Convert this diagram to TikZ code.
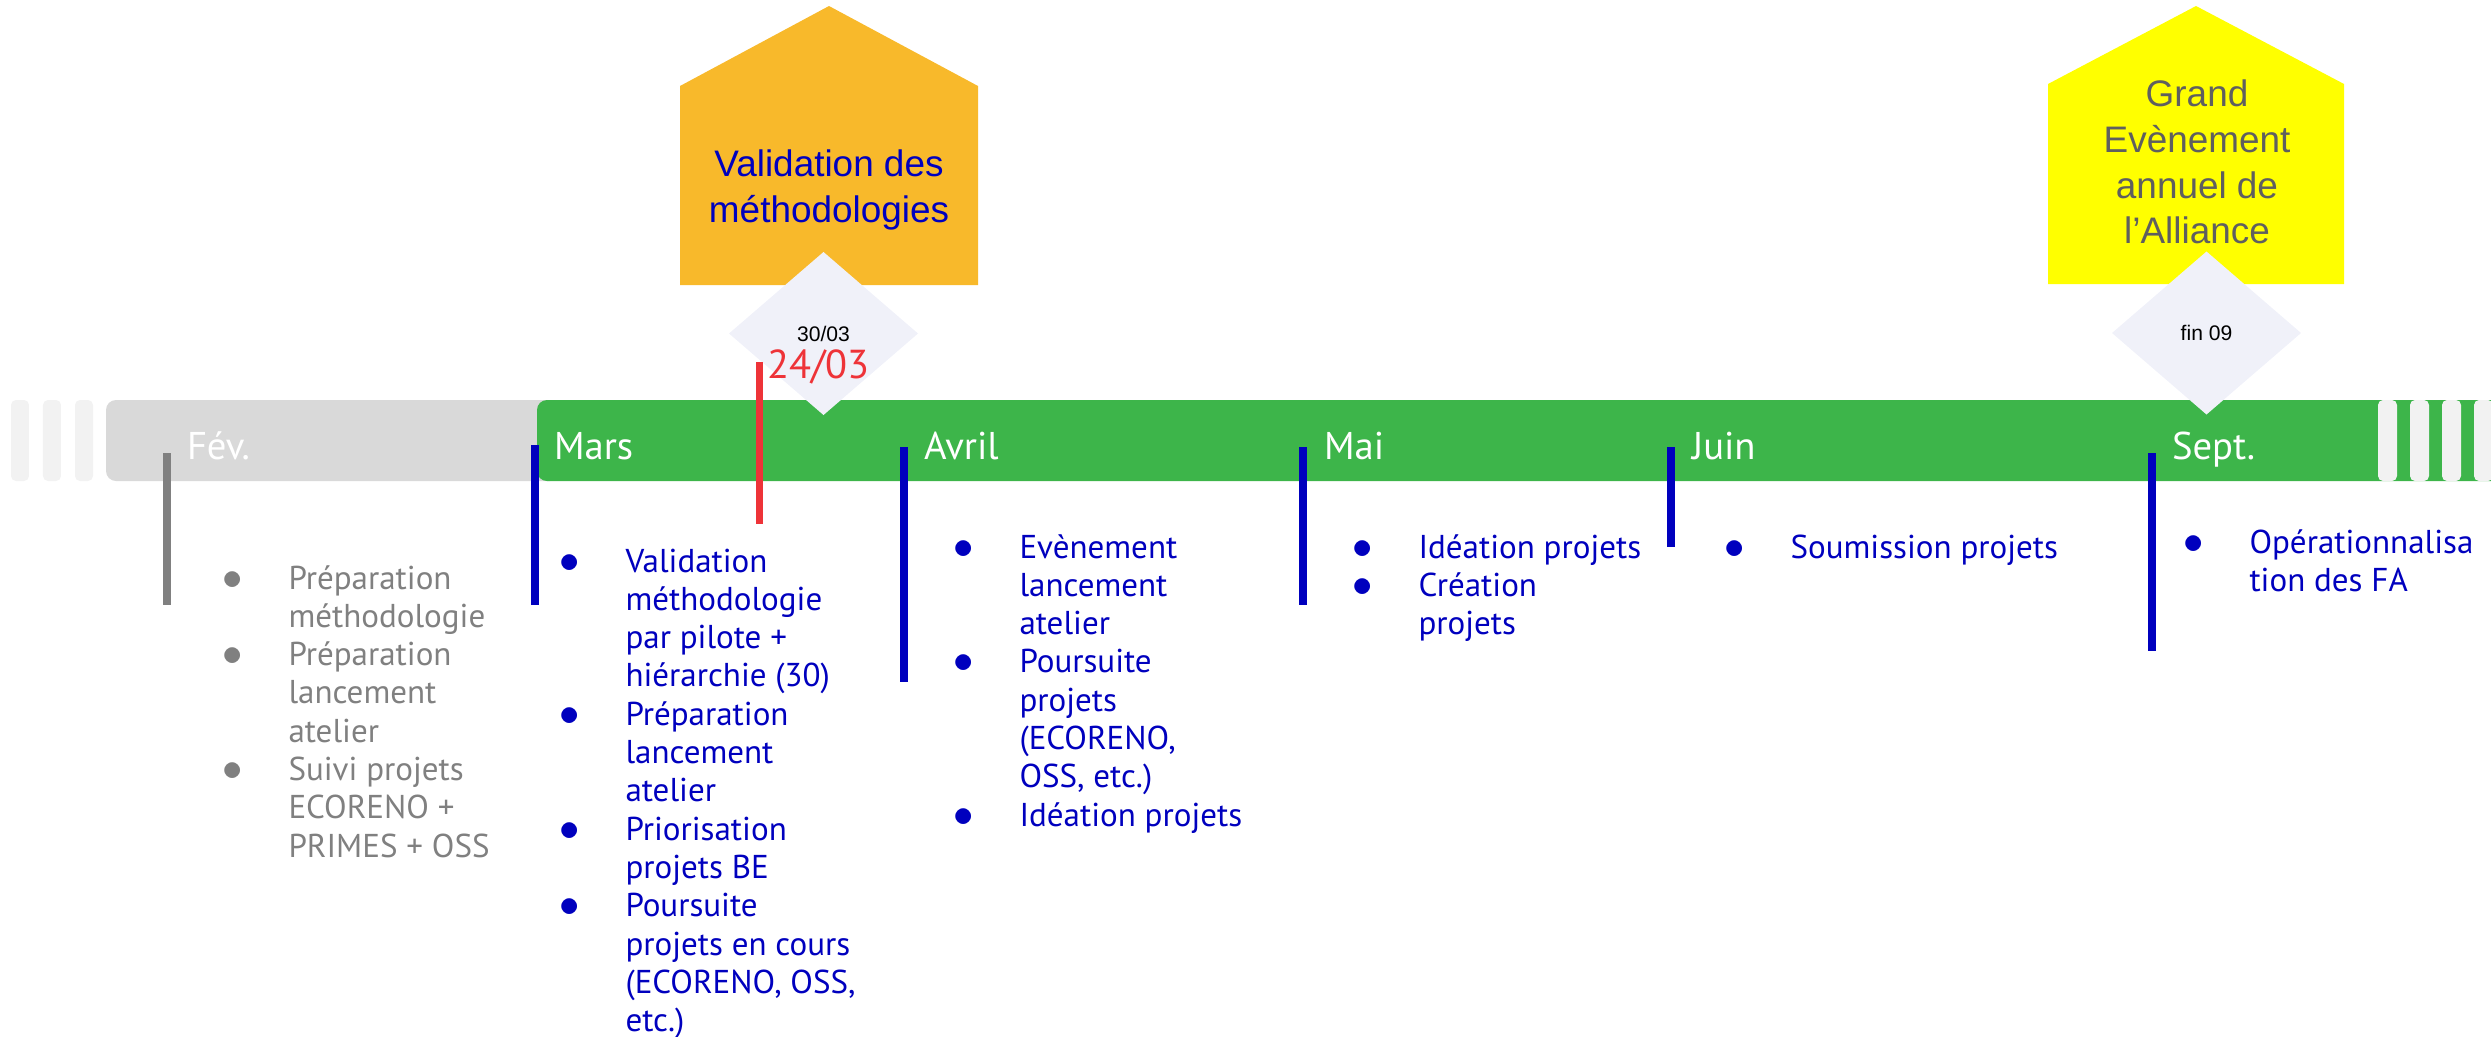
\documentclass[tikz,border=0pt]{standalone}
\usepackage{fontspec}
\setmainfont{PT Sans}
\newfontfamily\arialfont{Liberation Sans}
\usetikzlibrary{shapes.geometric}
\definecolor{bargreen}{RGB}{61,181,74}
\definecolor{bargray}{RGB}{217,217,217}
\definecolor{stripegray}{RGB}{242,242,242}
\definecolor{houseorange}{RGB}{248,185,43}
\definecolor{houseyellow}{RGB}{255,255,0}
\definecolor{datefill}{RGB}{240,241,249}
\definecolor{plannavy}{RGB}{0,0,190}
\definecolor{pastgray}{RGB}{128,128,128}
\definecolor{eventgray}{RGB}{95,95,95}
\definecolor{delayred}{RGB}{238,51,56}
\newcommand{\blt}{\makebox[0.13cm][c]{\scalebox{1.25}{$\bullet$}}}
\newcommand{\itemlist}[1]{\begin{tabular}[t]{@{}p{0.62cm}@{}l@{}}#1\end{tabular}}
\begin{document}
\begin{tikzpicture}[x=1cm,y=-1cm,inner sep=0pt,outer sep=0pt,
stripe/.style={fill=stripegray,rounded corners=0.05cm},
tick/.style={line width=0.075cm,draw=#1},tick/.default=plannavy,
month/.style={anchor=base west,text=white,font=\fontsize{11}{13}\selectfont},
housetext/.style={align=center,text=#1,font=\arialfont\fontsize{10.5}{13}\selectfont},
datebox/.style={diamond,fill=datefill,minimum width=1.89cm,minimum height=1.63cm,font=\arialfont\fontsize{6}{7}\selectfont},
items/.style={anchor=base west,text=#1,font=\fontsize{9.4}{10.9}\selectfont}]
\useasboundingbox (0,0) rectangle (24.91,10.36);
\foreach \x in {0.11,0.43,0.75} \fill[stripe] (\x,4.00) rectangle ++(0.18,0.81);
\fill[bargray,rounded corners=0.1cm] (1.06,4.00) rectangle (5.6,4.81);
\fill[bargreen,rounded corners=0.1cm] (5.37,4.00) rectangle (25.2,4.81);
\foreach \x in {23.78,24.10,24.42,24.74} \fill[stripe] (\x,4.00) rectangle ++(0.19,0.81);
\fill[houseorange] (6.80,2.85) -- (6.80,0.86) -- (8.29,0.06) -- (9.78,0.86) -- (9.78,2.85) -- cycle;
\fill[houseyellow] (20.48,2.84) -- (20.48,0.84) -- (21.96,0.06) -- (23.44,0.84) -- (23.44,2.84) -- cycle;
\draw (8.29,1.90) node[housetext=plannavy] (valid) {Validation des\\méthodologies};
\draw (21.97,1.62) node[housetext=eventgray] (grand) {Grand\\Evènement\\annuel de\\l’Alliance};
\draw (8.235,3.335) node[datebox] (d1) {30/03};
\draw (22.065,3.33) node[datebox] (d2) {fin 09};
\draw[line width=0.07cm,delayred] (7.59,3.62) -- (7.59,5.24);
\draw (7.67,3.78) node[anchor=base west,text=delayred,font=\fontsize{11.5}{13}\selectfont] (slip) {24/03};
\draw[tick=pastgray] (1.67,4.53) -- (1.67,6.05);
\draw[tick] (5.35,4.45) -- (5.35,6.05);
\draw[tick] (9.04,4.47) -- (9.04,6.82);
\draw[tick] (13.03,4.47) -- (13.03,6.05);
\draw[tick] (16.71,4.47) -- (16.71,5.47);
\draw[tick] (21.52,4.53) -- (21.52,6.51);
\draw (1.87,4.59) node[month] (feb) {Fév.};
\draw (5.54,4.59) node[month] (mar) {Mars};
\draw (9.24,4.59) node[month] (apr) {Avril};
\draw (13.24,4.59) node[month] (may) {Mai};
\draw (16.92,4.59) node[month] (jun) {Juin};
\draw (21.72,4.59) node[month] (sep) {Sept.};
\draw (2.265,5.89) node[items=pastgray] (febitems) {\itemlist{\blt & Préparation\\ & méthodologie\\ \blt & Préparation\\ & lancement\\ & atelier\\ \blt & Suivi projets\\ & ECORENO +\\ & PRIMES + OSS}};
\draw (5.635,5.72) node[items=plannavy] (maritems) {\itemlist{\blt & Validation\\ & méthodologie\\ & par pilote +\\ & hiérarchie (30)\\ \blt & Préparation\\ & lancement\\ & atelier\\ \blt & Priorisation\\ & projets BE\\ \blt & Poursuite\\ & projets en cours\\ & (ECORENO, OSS,\\ & etc.)}};
\draw (9.575,5.58) node[items=plannavy] (apritems) {\itemlist{\blt & Evènement\\ & lancement\\ & atelier\\ \blt & Poursuite\\ & projets\\ & (ECORENO,\\ & OSS, etc.)\\ \blt & Idéation projets}};
\draw (13.565,5.58) node[items=plannavy] (mayitems) {\itemlist{\blt & Idéation projets\\ \blt & Création\\ & projets}};
\draw (17.285,5.58) node[items=plannavy] (junitems) {\itemlist{\blt & Soumission projets}};
\draw (21.875,5.53) node[items=plannavy] (sepitems) {\itemlist{\blt & Opérationnalisa\\ & tion des FA}};
\end{tikzpicture}
\end{document}
